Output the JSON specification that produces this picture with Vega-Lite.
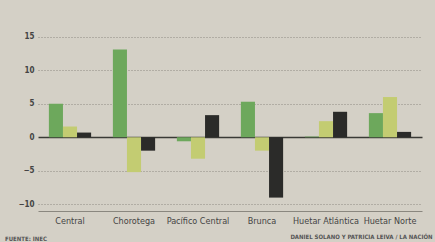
{
  "$schema": "https://vega.github.io/schema/vega-lite/v6.json",
  "width": 384,
  "height": 181,
  "autosize": {"type": "none"},
  "padding": {"left": 38, "top": 30, "right": 13, "bottom": 31},
  "background": "#d4d0c6",
  "config": {
    "view": {"stroke": null},
    "font": "DejaVu Sans Condensed, sans-serif"
  },
  "title": {
    "text": "FUENTE: INEC",
    "orient": "bottom",
    "anchor": "start",
    "frame": "group",
    "fontSize": 6,
    "fontWeight": "bold",
    "color": "#555555",
    "offset": -3,
    "dx": -33
  },
  "data": {
    "values": [
      {"region": "Central", "serie": "Serie 1", "valor": 5.0},
      {"region": "Central", "serie": "Serie 2", "valor": 1.6},
      {"region": "Central", "serie": "Serie 3", "valor": 0.7},
      {"region": "Chorotega", "serie": "Serie 1", "valor": 13.1},
      {"region": "Chorotega", "serie": "Serie 2", "valor": -5.2},
      {"region": "Chorotega", "serie": "Serie 3", "valor": -2.0},
      {"region": "Pacífico Central", "serie": "Serie 1", "valor": -0.6},
      {"region": "Pacífico Central", "serie": "Serie 2", "valor": -3.2},
      {"region": "Pacífico Central", "serie": "Serie 3", "valor": 3.3},
      {"region": "Brunca", "serie": "Serie 1", "valor": 5.3},
      {"region": "Brunca", "serie": "Serie 2", "valor": -2.0},
      {"region": "Brunca", "serie": "Serie 3", "valor": -9.0},
      {"region": "Huetar Atlántica", "serie": "Serie 1", "valor": 0.1},
      {"region": "Huetar Atlántica", "serie": "Serie 2", "valor": 2.4},
      {"region": "Huetar Atlántica", "serie": "Serie 3", "valor": 3.8},
      {"region": "Huetar Norte", "serie": "Serie 1", "valor": 3.6},
      {"region": "Huetar Norte", "serie": "Serie 2", "valor": 6.0},
      {"region": "Huetar Norte", "serie": "Serie 3", "valor": 0.8}
    ]
  },
  "mark": {"type": "bar"},
  "encoding": {
    "x": {
      "field": "region",
      "type": "nominal",
      "sort": null,
      "scale": {"paddingInner": 0.34, "paddingOuter": 0.17},
      "axis": {
        "title": "DANIEL SOLANO Y PATRICIA LEIVA / LA NACIÓN",
        "titleAnchor": "end",
        "titleFontSize": 6,
        "titleFontWeight": "bold",
        "titleColor": "#555555",
        "titlePadding": 8,
        "titleX": 394,
        "labelAngle": 0,
        "labelFontSize": 9,
        "labelColor": "#444444",
        "labelPadding": 5,
        "ticks": false,
        "domainColor": "#8a877f",
        "domainWidth": 1
      }
    },
    "xOffset": {"field": "serie", "type": "nominal", "sort": null},
    "y": {
      "field": "valor",
      "type": "quantitative",
      "scale": {"domain": [-11, 16], "nice": false},
      "axis": {
        "title": null,
        "values": [-10, -5, 0, 5, 10, 15],
        "labelOverlap": false,
        "labelFontSize": 8,
        "labelFontWeight": "bold",
        "labelColor": "#444444",
        "labelPadding": 4,
        "ticks": false,
        "domain": false,
        "gridColor": {"condition": {"test": "datum.value === 0", "value": "#3a3a36"}, "value": "#8f8b82"},
        "gridDash": {"condition": {"test": "datum.value === 0", "value": []}, "value": [1, 2]},
        "gridWidth": {"condition": {"test": "datum.value === 0", "value": 1.5}, "value": 1}
      }
    },
    "color": {
      "field": "serie",
      "type": "nominal",
      "sort": null,
      "scale": {"range": ["#6da85c", "#c3cc72", "#2b2b29"]},
      "legend": null
    }
  }
}
